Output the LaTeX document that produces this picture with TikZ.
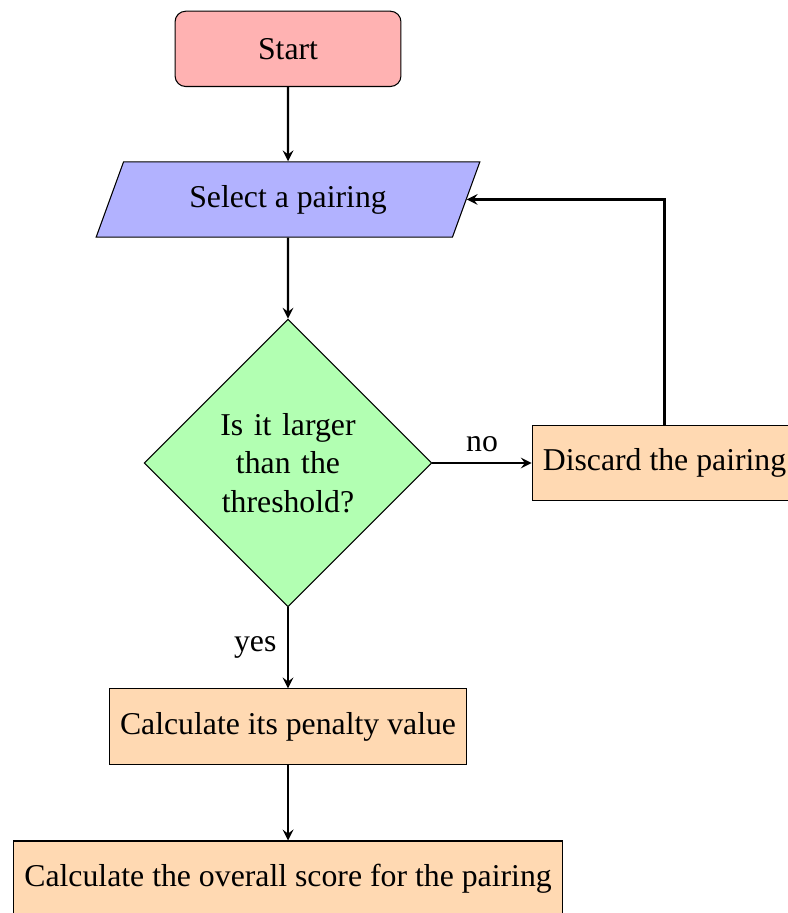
\documentclass[12pt,tikz,border=0pt]{standalone}
\usepackage{fontspec}
\setmainfont{Liberation Serif}
\usetikzlibrary{shapes.geometric,arrows}

\begin{document}
\begin{tikzpicture}[auto, >=stealth, thick]

\tikzstyle{startstop}=[rectangle, rounded corners, minimum width=3cm, minimum height=1cm, draw=black, thin, fill=red!30]
\tikzstyle{io}=[trapezium, trapezium left angle=70, trapezium right angle=110, minimum width=3cm, minimum height=1cm, draw=black, thin, fill=blue!30]
\tikzstyle{decision}=[diamond, minimum size=3.82cm, text width=2cm, align=center, inner sep=0pt, draw=black, thin, fill=green!30]
\tikzstyle{process}=[rectangle, minimum width=3cm, minimum height=1cm, draw=black, thin, fill=orange!30]

\useasboundingbox (-3.825,-5.976) rectangle (6.627,6.149);

\draw    (0, 5.5)   node[startstop] (start) {Start}
         (0, 3.5)   node[io] (select) {Select a pairing}
         (0, 0)     node[decision] (check) {Is it larger than the threshold?}
         (5, 0)     node[process] (discard) {Discard the pairing};
\draw    (0, -3.5)  node[process] (penalty) {Calculate its penalty value}
         (0, -5.52) node[process] (score) {Calculate the overall score for the pairing};

\draw[->] (start) -- (select);
\draw[->] (select) -- (check);
\draw[->] (check) -- node {no} (discard);
\draw[->] (check) -- node[swap] {yes} (penalty);
\draw[->] (discard.north) |- (select.east);
\draw[->] (penalty) -- (score);

\end{tikzpicture}
\end{document}
